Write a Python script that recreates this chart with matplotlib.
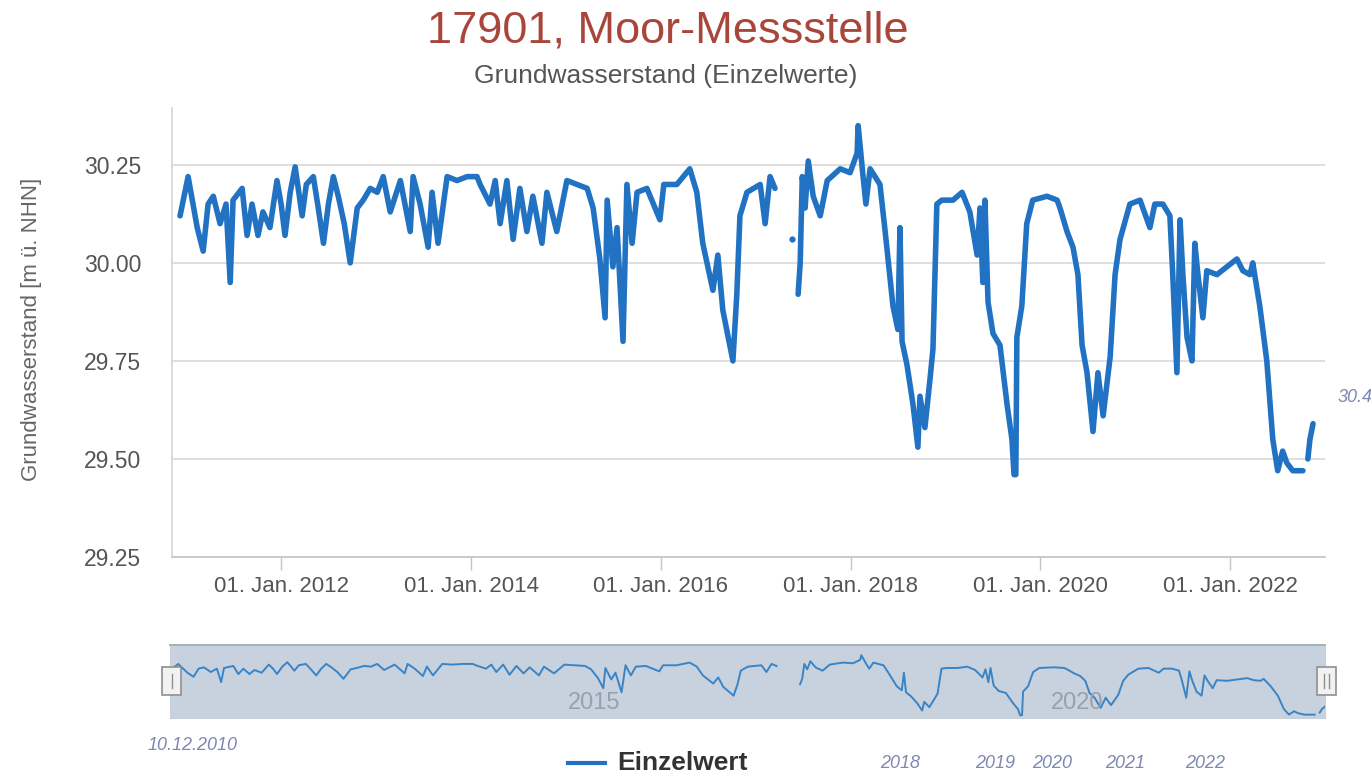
import matplotlib
matplotlib.use("Agg")
import matplotlib.pyplot as plt
import matplotlib.dates as mdates
import numpy as np
import pandas as pd
from matplotlib.patches import Rectangle
from matplotlib.lines import Line2D

plt.rcParams['font.family'] = ['Liberation Sans', 'DejaVu Sans']

# ---------------- data ----------------
title = "17901, Moor-Messstelle"
subtitle = "Grundwasserstand (Einzelwerte)"
y_label = "Grundwasserstand [m ü. NHN]"
series_name = "Einzelwert"

dates = [
    "2010-12-08", "2011-01-08", "2011-01-27", "2011-02-12", "2011-03-07", "2011-03-26",
    "2011-04-15", "2011-05-11", "2011-06-03", "2011-06-19", "2011-06-30", "2011-08-04",
    "2011-08-23", "2011-09-11", "2011-10-04", "2011-10-23", "2011-11-19", "2011-12-16",
    "2012-01-01", "2012-01-16", "2012-02-05", "2012-02-24", "2012-03-22", "2012-04-07",
    "2012-05-04", "2012-05-23", "2012-06-12", "2012-07-01", "2012-07-20", "2012-08-08",
    "2012-08-31", "2012-09-23", "2012-10-20", "2012-11-12", "2012-12-09", "2013-01-05",
    "2013-01-28", "2013-02-24", "2013-04-04", "2013-05-12", "2013-05-23", "2013-06-19",
    "2013-07-20", "2013-08-04", "2013-08-27", "2013-10-01", "2013-11-08", "2013-12-17",
    "2014-01-24", "2014-02-05", "2014-03-15", "2014-04-04", "2014-04-23", "2014-05-19",
    "2014-06-12", "2014-07-08", "2014-08-04", "2014-08-27", "2014-10-01", "2014-10-20",
    "2014-11-27", "2015-01-05", "2015-02-13", "2015-03-24", "2015-04-16", "2015-05-12",
    "2015-06-01", "2015-06-09", "2015-07-01", "2015-07-17", "2015-08-09", "2015-08-24",
    "2015-09-13", "2015-10-02", "2015-11-09", "2015-12-29", "2016-01-13", "2016-03-03",
    "2016-04-22", "2016-05-19", "2016-06-11", "2016-07-20", "2016-08-08", "2016-08-27",
    "2016-09-23", "2016-10-05", "2016-10-20", "2016-11-01", "2016-11-28", "2017-01-18",
    "2017-02-06", "2017-02-25", "2017-03-16",
    "2017-04-15",
    "2017-06-13", "2017-06-21", "2017-06-29", "2017-07-10", "2017-07-22", "2017-08-10",
    "2017-09-06", "2017-10-03", "2017-11-22", "2017-12-30", "2018-01-26", "2018-01-30",
    "2018-02-18", "2018-03-01", "2018-03-17", "2018-04-24", "2018-05-14", "2018-06-13",
    "2018-07-02", "2018-07-10", "2018-07-18", "2018-08-06", "2018-08-29", "2018-09-17",
    "2018-09-25", "2018-10-14", "2018-11-02", "2018-11-14", "2018-11-29", "2018-12-18",
    "2019-01-30", "2019-03-06", "2019-04-05", "2019-05-03", "2019-05-14", "2019-05-25",
    "2019-06-02", "2019-06-14", "2019-07-03", "2019-07-30", "2019-08-26", "2019-09-14",
    "2019-09-22", "2019-09-29", "2019-10-03", "2019-10-22", "2019-11-10", "2019-12-03",
    "2020-01-27", "2020-03-06", "2020-03-17", "2020-04-13", "2020-05-06", "2020-05-25",
    "2020-06-10", "2020-06-29", "2020-07-22", "2020-08-10", "2020-08-30", "2020-09-26",
    "2020-10-15", "2020-11-03", "2020-12-11", "2021-01-19", "2021-02-26", "2021-03-17",
    "2021-04-17", "2021-05-14", "2021-05-25", "2021-06-10", "2021-06-22", "2021-07-03",
    "2021-07-19", "2021-08-07", "2021-08-18", "2021-08-30", "2021-09-18", "2021-10-03",
    "2021-11-11", "2021-12-19", "2022-01-27", "2022-02-19", "2022-03-18", "2022-03-29",
    "2022-04-25", "2022-05-22", "2022-06-14", "2022-07-03", "2022-07-22", "2022-08-07",
    "2022-08-30", "2022-10-08",
    "2022-10-20",
    "2022-10-27", "2022-11-04", "2022-11-16",
]

values = [
    30.12, 30.22, 30.15, 30.09, 30.03, 30.15,
    30.17, 30.10, 30.15, 29.95, 30.16, 30.19,
    30.07, 30.15, 30.07, 30.13, 30.09, 30.21,
    30.15, 30.07, 30.18, 30.245, 30.12, 30.20,
    30.22, 30.14, 30.05, 30.15, 30.22, 30.17,
    30.10, 30.00, 30.14, 30.16, 30.19, 30.18,
    30.22, 30.13, 30.21, 30.08, 30.22, 30.15,
    30.04, 30.18, 30.05, 30.22, 30.21, 30.22,
    30.22, 30.20, 30.15, 30.21, 30.10, 30.21,
    30.06, 30.19, 30.08, 30.17, 30.05, 30.18,
    30.08, 30.21, 30.20, 30.19, 30.14, 30.01,
    29.86, 30.16, 29.99, 30.09, 29.80, 30.20,
    30.05, 30.18, 30.19, 30.11, 30.20, 30.20,
    30.24, 30.18, 30.05, 29.93, 30.02, 29.88,
    29.79, 29.75, 29.92, 30.12, 30.18, 30.20,
    30.10, 30.22, 30.19,
    np.nan,
    29.92, 30.00, 30.22, 30.14, 30.26, 30.17,
    30.12, 30.21, 30.24, 30.23, 30.28, 30.35,
    30.22, 30.15, 30.24, 30.20, 30.08, 29.89,
    29.83, 30.09, 29.80, 29.74, 29.64, 29.53,
    29.66, 29.58, 29.70, 29.78, 30.15, 30.16,
    30.16, 30.18, 30.13, 30.02, 30.14, 29.95,
    30.16, 29.90, 29.82, 29.79, 29.64, 29.55,
    29.46, 29.46, 29.81, 29.89, 30.10, 30.16,
    30.17, 30.16, 30.14, 30.08, 30.04, 29.97,
    29.79, 29.72, 29.57, 29.72, 29.61, 29.76,
    29.97, 30.06, 30.15, 30.16, 30.09, 30.15,
    30.15, 30.12, 29.97, 29.72, 30.11, 29.97,
    29.81, 29.75, 30.05, 29.97, 29.86, 29.98,
    29.97, 29.99, 30.01, 29.98, 29.97, 30.00,
    29.89, 29.75, 29.55, 29.47, 29.52, 29.49,
    29.47, 29.47,
    np.nan,
    29.50, 29.55, 29.59,
]

dot_dates = ["2017-05-21"]
dot_values = [30.06]

y_ticks = [29.25, 29.50, 29.75, 30.00, 30.25]
x_tick_years = [2012, 2014, 2016, 2018, 2020, 2022]
nav_label_years = [2015, 2020]
notes = ["10.12.2010", "30.4", "2018", "2019", "2020", "2021", "2022"]

# ---------------- layout ----------------
W, H = 1371, 778
BLUE = "#2172c2"
fig = plt.figure(figsize=(W / 100, H / 100), dpi=100)
fig.patch.set_facecolor("white")


def fx(x):
    return x / W


def fy(y):
    return 1 - y / H


t = pd.to_datetime(dates)
v = np.array(values, dtype=float)

ax = fig.add_axes([fx(172), fy(557), fx(1325) - fx(172), fy(108) - fy(557)])
ax.plot(t, v, color=BLUE, lw=4.0, solid_joinstyle="round", solid_capstyle="round")
ax.plot(pd.to_datetime(dot_dates), dot_values, "o", ms=3.5, color=BLUE)
ax.set_xlim(pd.Timestamp("2010-11-07"), pd.Timestamp("2023-01-01"))
ax.set_ylim(29.25, 30.395)

ax.set_yticks(y_ticks)
ax.set_yticklabels([f"{y:.2f}" for y in y_ticks])
xt = [pd.Timestamp(f"{y}-01-01") for y in x_tick_years]
ax.set_xticks(xt)
ax.set_xticklabels([f"01. Jan. {y}" for y in x_tick_years])

ax.grid(axis="y", color="#d9d9d9", lw=1.2)
ax.set_axisbelow(True)
for s in ["top", "right"]:
    ax.spines[s].set_visible(False)
ax.spines["left"].set_color("#d4d4d4")
ax.spines["left"].set_linewidth(1.2)
ax.spines["bottom"].set_color("#c4c4c4")
ax.spines["bottom"].set_linewidth(1.2)
ax.tick_params(axis="y", length=0, pad=22, labelsize=16.5, labelcolor="#555555")
ax.tick_params(axis="x", length=9, width=1, color="#c4c4c4", pad=5,
               labelsize=16, labelcolor="#555555")

fig.text(fx(32), fy(329), y_label, rotation=90, ha="center", va="center",
         fontsize=16, color="#666666")
fig.text(fx(668), fy(42), title, ha="center", va="baseline",
         fontsize=32.5, color="#a9463c")
fig.text(fx(666), fy(83), subtitle, ha="center", va="baseline",
         fontsize=19, color="#555555")

# ---------------- navigator ----------------
nav = fig.add_axes([fx(170), fy(718), fx(1325) - fx(170), fy(645) - fy(718)])
nav.set_facecolor("#c8d2de")
nav.plot(t, v, color="#3a84c6", lw=1.4)
nav.set_xlim(t[0], t[-1])
nav.set_ylim(29.42, 30.50)
nav.set_xticks([])
nav.set_yticks([])
for s in ["left", "right", "bottom"]:
    nav.spines[s].set_color("#c9cfd6")
nav.spines["top"].set_color("#a3abb3")
nav.spines["top"].set_linewidth(1.3)
for yr in nav_label_years:
    nav.annotate(str(yr), xy=(pd.Timestamp(f"{yr}-01-01"), 0.21),
                 xycoords=("data", "axes fraction"), xytext=(3, 0),
                 textcoords="offset points", ha="left", va="center",
                 fontsize=17, color="#98a1ab")

# handles
for (x0, x1, nlines) in [(162, 181, 1), (1317, 1336, 2)]:
    fig.patches.append(Rectangle((fx(x0), fy(695)), fx(x1) - fx(x0), fy(667) - fy(695),
                                 transform=fig.transFigure, facecolor="#f2f2f2",
                                 edgecolor="#8f8f8f", lw=1.2, zorder=5))
    cx = (x0 + x1) / 2
    offs = [0] if nlines == 1 else [-2.5, 2.5]
    for o in offs:
        fig.lines.append(Line2D([fx(cx + o), fx(cx + o)], [fy(674), fy(688)],
                                transform=fig.transFigure, color="#8f8f8f", lw=1, zorder=6))

# ---------------- legend ----------------
fig.lines.append(Line2D([fx(568), fx(605)], [fy(763), fy(763)], transform=fig.transFigure,
                        color=BLUE, lw=3))
fig.text(fx(617), fy(763), series_name, ha="left", va="center", fontsize=19,
         fontweight="bold", color="#333333")

# ---------------- handwritten notes on the scan ----------------
hand = dict(fontsize=13, color="#7d88b3", style="italic", ha="left", va="center")
fig.text(fx(148), fy(746), notes[0], **hand)
fig.text(fx(1338), fy(398), notes[1], **hand)
for txt, x in zip(notes[2:], [880, 975, 1032, 1105, 1185]):
    fig.text(fx(x), fy(764), txt, **hand)

fig.savefig("out.png", dpi=100)
